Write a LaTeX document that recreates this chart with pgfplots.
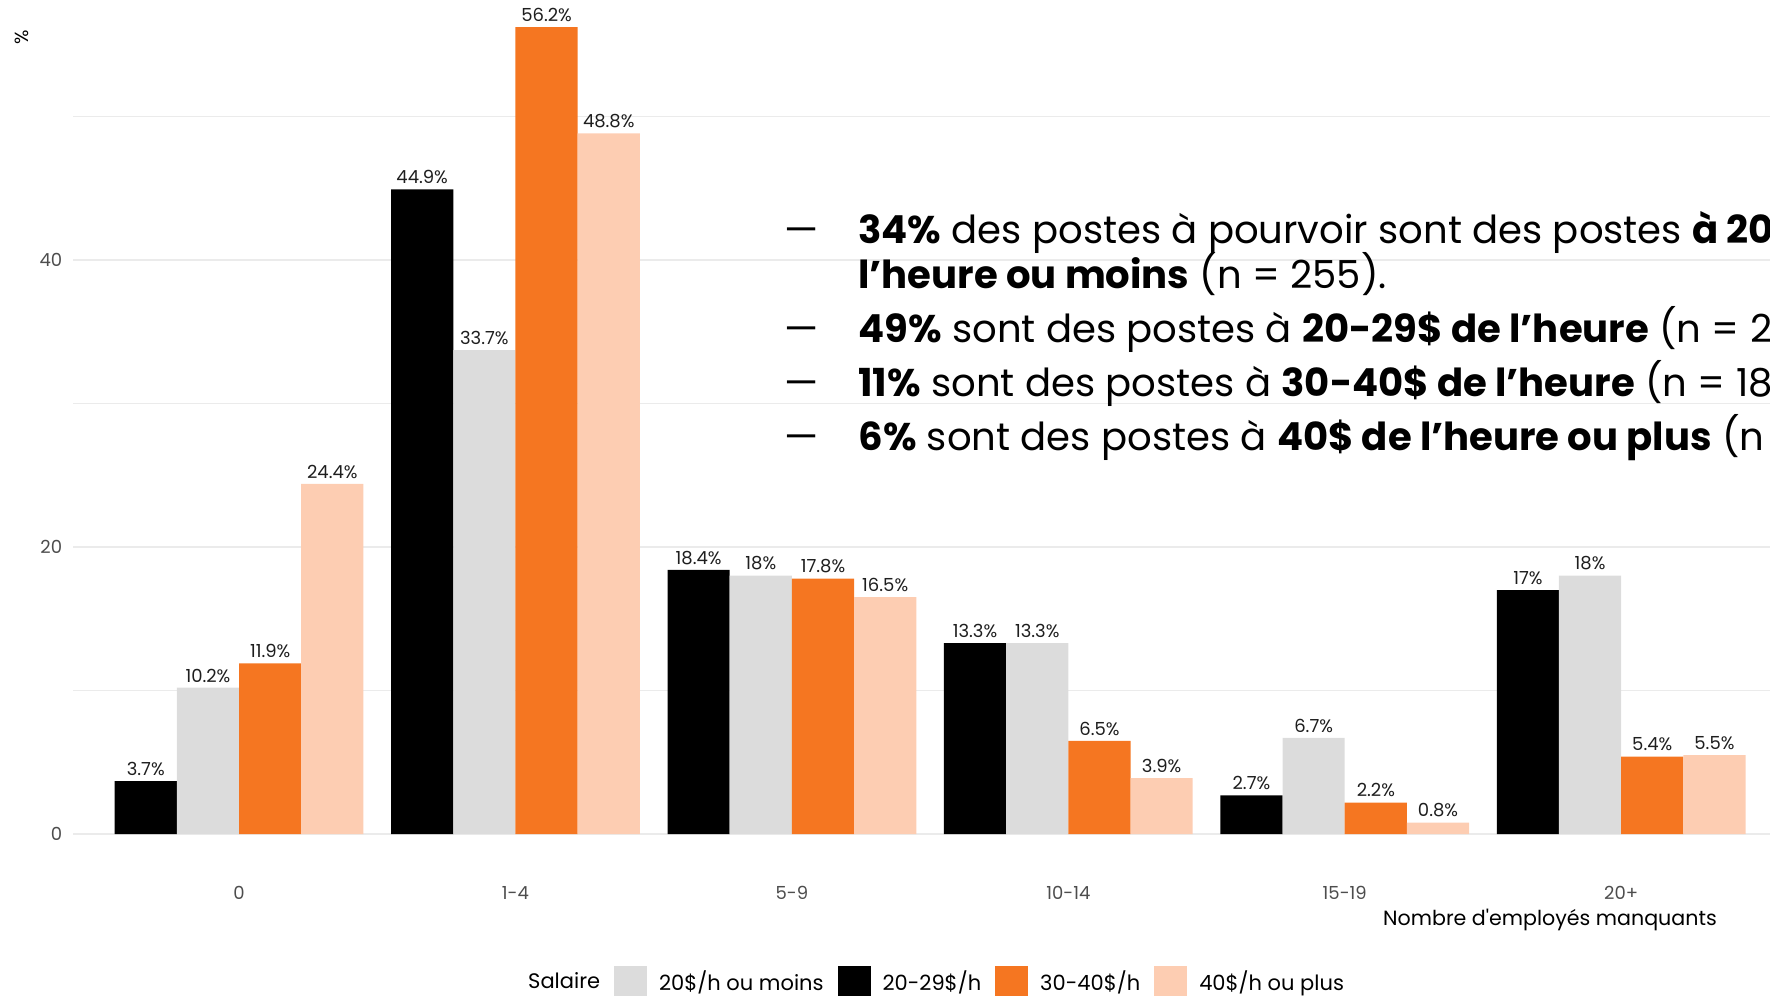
\documentclass[border=0pt]{standalone}
\usepackage{pgfplots}
\pgfplotsset{compat=1.18}
\usepackage{pgfplotstable}
\usepackage{fontspec}
\setmainfont{Poppins}
\definecolor{cgrey}{RGB}{220,220,220}
\definecolor{corange}{RGB}{245,118,33}
\definecolor{cpeach}{RGB}{253,205,178}
\definecolor{ctick}{RGB}{77,77,77}
\definecolor{cgrid}{RGB}{235,235,235}
\definecolor{clabel}{RGB}{30,30,30}

\pgfplotstableread{
x y lab
0 3.7 3.7
1 44.9 44.9
2 18.4 18.4
3 13.3 13.3
4 2.7 2.7
5 17 17
}\tblack
\pgfplotstableread{
x y lab
0 10.2 10.2
1 33.7 33.7
2 18 18
3 13.3 13.3
4 6.7 6.7
5 18 18
}\tgrey
\pgfplotstableread{
x y lab
0 11.9 11.9
1 56.2 56.2
2 17.8 17.8
3 6.5 6.5
4 2.2 2.2
5 5.4 5.4
}\torange
\pgfplotstableread{
x y lab
0 24.4 24.4
1 48.8 48.8
2 16.5 16.5
3 3.9 3.9
4 0.8 0.8
5 5.5 5.5
}\tpeach

\begin{document}
\begin{tikzpicture}
\useasboundingbox (0,0) rectangle (885pt,497.5pt);
\clip (0,0) rectangle (885pt,497.5pt);
\begin{axis}[
  at={(36.6pt,60.25pt)}, anchor=south west,
  scale only axis, width=856.9pt, height=443.87pt,
  xmin=-0.6, xmax=5.6, ymin=-2.81, ymax=59.01,
  clip=false,
  axis line style={draw=none},
  major tick length=0pt, minor tick length=0pt,
  xtick={0,1,2,3,4,5}, xticklabels={0,1-4,5-9,10-14,15-19,20+},
  ytick={0,20,40}, minor ytick={10,30,50},
  ymajorgrids, yminorgrids,
  major grid style={color=cgrid, line width=0.8pt},
  minor grid style={color=cgrid, line width=0.45pt},
  tick label style={font=\fontsize{9}{11}\selectfont, color=ctick},
  xticklabel style={yshift=-2.5pt},
  yticklabel style={xshift=-2pt, /pgf/number format/assume math mode=true},
  xlabel={Nombre d\textquotesingle employés manquants},
  xlabel style={at={(axis description cs:0.8617,-0.057)}, anchor=base, font=\fontsize{10.3}{12}\selectfont, inner sep=0pt},
  ylabel={\%},
  ylabel style={at={(axis description cs:-0.030,0.9434)}, anchor=center, rotate=0, font=\fontsize{9.5}{11}\selectfont},
  nodes near coords style={font=\fontsize{9}{11}\selectfont, color=clabel, anchor=south, inner sep=0pt, yshift=2.5pt},
  legend image code/.code={\fill[#1] (0pt,-8.7pt) rectangle (16.5pt,7.8pt);},
  legend style={at={(0.5,-0.1222)}, anchor=center, draw=none, fill=none,
    font=\fontsize{10.5}{12}\selectfont, inner sep=0pt, outer sep=0pt,
    nodes={inner sep=0pt},
    /tikz/every odd column/.append style={column sep=6pt},
    /tikz/every even column/.append style={column sep=7pt}},
  legend columns=-1,
  legend cell align=left,
]
\addplot[ybar, bar width=0.225, bar shift=0pt, fill=black, draw=none, forget plot,
  point meta=explicit symbolic, nodes near coords={\pgfplotspointmeta\%}]
  table[x expr=\thisrow{x}-0.3375, y=y, meta=lab]{\tblack};
\addplot[ybar, bar width=0.225, bar shift=0pt, fill=cgrey, draw=none, forget plot,
  point meta=explicit symbolic, nodes near coords={\pgfplotspointmeta\%}]
  table[x expr=\thisrow{x}-0.1125, y=y, meta=lab]{\tgrey};
\addplot[ybar, bar width=0.225, bar shift=0pt, fill=corange, draw=none, forget plot,
  point meta=explicit symbolic, nodes near coords={\pgfplotspointmeta\%}]
  table[x expr=\thisrow{x}+0.1125, y=y, meta=lab]{\torange};
\addplot[ybar, bar width=0.225, bar shift=0pt, fill=cpeach, draw=none, forget plot,
  point meta=explicit symbolic, nodes near coords={\pgfplotspointmeta\%}]
  table[x expr=\thisrow{x}+0.3375, y=y, meta=lab]{\tpeach};
\addlegendimage{empty legend}
\addlegendentry{Salaire}
\addlegendimage{fill=cgrey, draw=none}
\addlegendentry{20\$/h ou moins}
\addlegendimage{fill=black, draw=none}
\addlegendentry{20-29\$/h}
\addlegendimage{fill=corange, draw=none}
\addlegendentry{30-40\$/h}
\addlegendimage{fill=cpeach, draw=none}
\addlegendentry{40\$/h ou plus}
\end{axis}
\begin{scope}[every node/.style={anchor=base west, inner sep=0pt, font=\fontsize{19.3}{23}\selectfont}]
\node at (392pt,375.5pt) {—};
\node at (429pt,375.5pt) {\textbf{34\%} des postes à pourvoir sont des postes \textbf{à 20\$ de}};
\node at (429pt,353pt) {\textbf{l’heure ou moins} (n = 255).};
\node at (392pt,326pt) {—};
\node at (429pt,326pt) {\textbf{49\%} sont des postes à \textbf{20-29\$ de l’heure} (n = 265).};
\node at (392pt,299pt) {—};
\node at (429pt,299pt) {\textbf{11\%} sont des postes à \textbf{30-40\$ de l’heure} (n = 186).};
\node at (392pt,272pt) {—};
\node at (429pt,272pt) {\textbf{6\%} sont des postes à \textbf{40\$ de l’heure ou plus} (n = 45).};
\end{scope}
\end{tikzpicture}
\end{document}
